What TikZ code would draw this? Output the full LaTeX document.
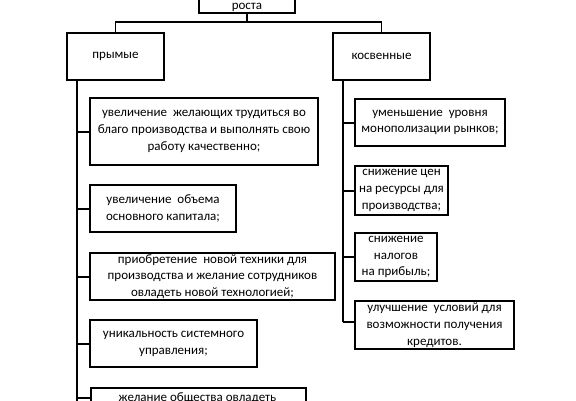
\documentclass[tikz,border=0pt]{standalone}
\usepackage{fontspec}
\setmainfont{Carlito}
\begin{document}
\begin{tikzpicture}[x=1pt,y=-1pt,
  txt/.style={align=center, inner sep=0pt, font=\fontsize{13}{16.8}\selectfont},
  box/.style={txt, draw=black, line width=2.2pt, fill=white},
  conn/.style={draw=black, line width=2pt},
  thinconn/.style={draw=black, line width=1.6pt}]
\useasboundingbox (0,0) rectangle (576,400);
\clip (0,0) rectangle (576,400);
% top box
\node[box, minimum width=96, minimum height=40] (top) at (247,-7) {};
\node[txt, anchor=base] (toptxt) at (247,9) {роста};
\node[box, minimum width=97, minimum height=47] (pr) at (115.5,56.5) {прымые};
\node[box, minimum width=97, minimum height=47] (ko) at (381.5,56.5) {косвенные};
\coordinate (hj) at (247,22);
\draw[thinconn] (top.south) -- (hj);
\draw[thinconn] (pr.north) |- (hj) -| (ko.north);
% trunks
\coordinate (lt) at (77,410);
\coordinate (rt) at (343,322);
\draw[conn] (pr.south -| lt) -- (lt);
\draw[conn] (ko.south -| rt) -- (rt);
% left boxes
\node[box, minimum width=228, minimum height=67] (l1) at (204,131.5)
 {увеличение\ \ желающих трудиться во\\благо производства и выполнять свою\\работу качественно;};
\node[box, minimum width=146, minimum height=47] (l2) at (163,208.5)
 {увеличение\ \ объема\\основного капитала;};
\node[box, minimum width=245, minimum height=47] (l3) at (212.5,276.5)
 {приобретение\ \ новой техники для\\производства и желание сотрудников\\овладеть новой технологией;};
\node[box, minimum width=167, minimum height=47] (l4) at (173.5,343.5)
 {уникальность системного\\управления;};
\node[box, minimum width=215, minimum height=47, anchor=north west] (l5) at (90,387) {};
\node[txt, anchor=base] (l5txt) at (197.5,401) {желание общества овладеть};
\foreach \b in {l1,l2,l3,l4}
  \draw[conn] (\b.west -| lt) -- (\b.west);
\coordinate (l5c) at (l5.north west |- 0,398);
\draw[conn] (l5c -| lt) -- (l5c);
% right boxes
\node[box, minimum width=150, minimum height=47] (r1) at (430,122.5)
 {уменьшение\ \ уровня\\монополизации рынков;};
\node[box, minimum width=93, minimum height=49] (r2) at (401.5,190.5)
 {снижение цен\\на ресурсы для\\производства;};
\node[box, minimum width=82, minimum height=48] (r3) at (396,257)
 {снижение\\налогов\\на прибыль;};
\node[box, minimum width=159, minimum height=48] (r4) at (434.5,325)
 {улучшение\ \ условий для\\возможности получения\\кредитов.};
\foreach \b in {r1,r2,r3}
  \draw[conn] (\b.west -| rt) -- (\b.west);
\draw[conn] (rt) -- (rt -| r4.west);
\end{tikzpicture}
\end{document}
